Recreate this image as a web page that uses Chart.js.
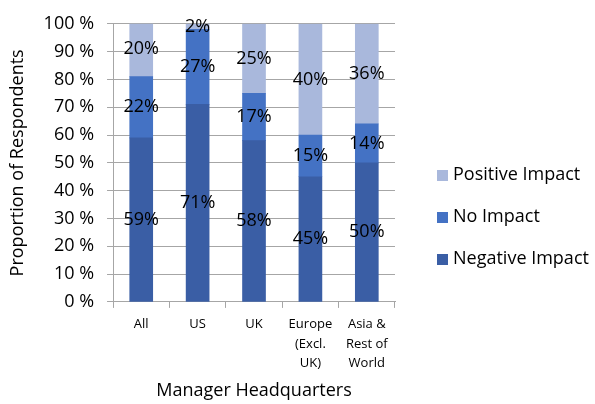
<!DOCTYPE html>
<html>
<head>
<meta charset="utf-8">
<script src="https://cdn.jsdelivr.net/npm/chart.js@4/dist/chart.umd.min.js"></script>
<style>
    body { margin: 0; background: #fff; }
    #wrap { position: relative; width: 595px; height: 404px; }
    #legend { position: absolute; left: 437px; top: 152px; font-family: 'Open Sans'; font-size: 18px; color: #000; }
    .legend-item { height: 42px; line-height: 42px; white-space: nowrap; }
    .legend-box { display: inline-block; width: 11px; height: 11px; margin-right: 5px; vertical-align: -1px; }
</style>
</head>
<body>
<div id="wrap">
    <canvas id="chart" width="595" height="404"></canvas>
    <div id="legend"></div>
</div>
<script>
// Données
const categories = ['All', 'US', 'UK', ['Europe', '(Excl.', 'UK)'], ['Asia &', 'Rest of', 'World']];
const negativeImpact = [59, 71, 58, 45, 50];
const noImpact = [22, 27, 17, 15, 14];
const positiveImpact = [20, 2, 25, 40, 36];
const yTicks = [0, 10, 20, 30, 40, 50, 60, 70, 80, 90, 100];

const FONT = 'Open Sans';
const GRID = '#a6a6a6';

// Etiquettes au centre de chaque segment
const barLabels = {
    id: 'barLabels',
    afterDatasetsDraw(chart) {
        const ctx = chart.ctx;
        ctx.save();
        ctx.font = '18px "' + FONT + '"';
        ctx.fillStyle = '#000';
        ctx.textAlign = 'center';
        ctx.textBaseline = 'middle';
        chart.data.datasets.forEach(function(ds, i) {
            chart.getDatasetMeta(i).data.forEach(function(bar, j) {
                const y = (bar.y + bar.base) / 2;
                ctx.fillText(ds.data[j] + '%', bar.x, y);
            });
        });
        ctx.restore();
    }
};

const data = {
    labels: categories,
    datasets: [
        { label: 'Negative Impact', data: negativeImpact, backgroundColor: '#3a5ea5' },
        { label: 'No Impact', data: noImpact, backgroundColor: '#4472c4' },
        { label: 'Positive Impact', data: positiveImpact, backgroundColor: '#a9b8dc' }
    ]
};

const config = {
    type: 'bar',
    data: data,
    plugins: [barLabels],
    options: {
        responsive: false,
        animation: false,
        layout: { padding: { left: 4, top: 9, right: 200, bottom: 2 } },
        datasets: { bar: { barThickness: 23 } },
        scales: {
            x: {
                stacked: true,
                grid: { display: true, drawOnChartArea: false, offset: true, tickLength: 6, color: GRID },
                border: { color: GRID },
                ticks: { color: '#000', font: { family: FONT, size: 13, lineHeight: 1.5 }, maxRotation: 0, padding: 7 },
                title: { display: true, text: 'Manager Headquarters', color: '#000', font: { family: FONT, size: 18 }, padding: { top: 0, bottom: 0 } }
            },
            y: {
                stacked: true,
                min: 0,
                max: 100,
                afterBuildTicks: function(scale) {
                    scale.ticks = yTicks.map(function(v) { return { value: v }; });
                },
                grid: { color: GRID, tickLength: 6 },
                border: { color: GRID },
                ticks: {
                    color: '#000',
                    font: { family: FONT, size: 18 },
                    padding: 13,
                    callback: function(v) { return v + ' %'; }
                },
                title: { display: true, text: 'Proportion of Respondents', color: '#000', font: { family: FONT, size: 18 }, padding: { top: 3, bottom: 2 } }
            }
        },
        plugins: {
            tooltip: { enabled: false },
            legend: { display: false }
        }
    }
};

const chart = new Chart(document.getElementById('chart'), config);

// Légende HTML (ordre inversé comme dans l'original)
function generate_legend(chart, container) {
    const items = chart.data.datasets.slice().reverse();
    items.forEach(function(ds) {
        const row = document.createElement('div');
        row.className = 'legend-item';
        const box = document.createElement('span');
        box.className = 'legend-box';
        box.style.background = ds.backgroundColor;
        row.appendChild(box);
        row.appendChild(document.createTextNode(ds.label));
        container.appendChild(row);
    });
}
generate_legend(chart, document.getElementById('legend'));
</script>
</body>
</html>
